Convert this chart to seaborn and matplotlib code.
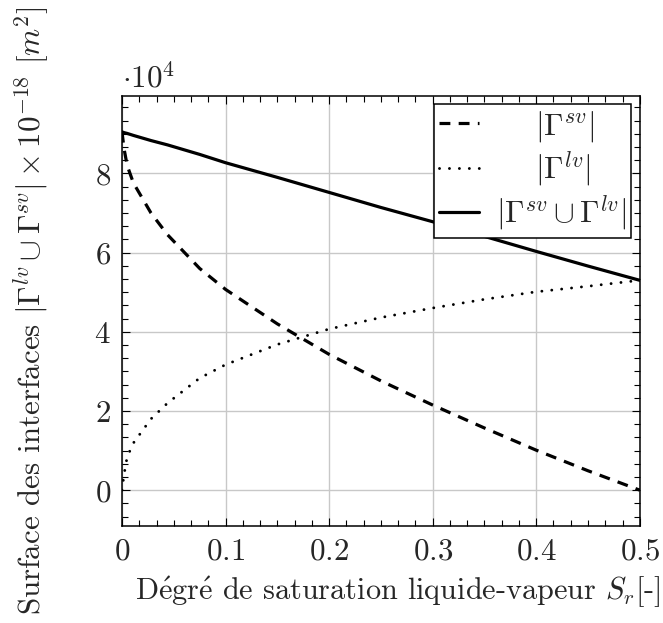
import matplotlib
matplotlib.use("Agg")
import numpy as np
import pandas as pd
import seaborn as sns
import matplotlib.pyplot as plt
from matplotlib.ticker import MultipleLocator, AutoMinorLocator, FuncFormatter

# ---- data (values in units of 1e4 x 1e-18 m^2) ----
sat = [0.0, 0.002, 0.005, 0.011, 0.028, 0.044, 0.075, 0.1, 0.15, 0.2,
       0.25, 0.3, 0.35, 0.4, 0.45, 0.5]
gamma_sv = [9.05, 8.62, 8.20, 7.76, 7.00, 6.45, 5.60, 5.07, 4.20, 3.43,
            2.76, 2.15, 1.57, 1.01, 0.49, 0.0]
gamma_lv = [0.0, 0.40, 0.84, 1.19, 1.80, 2.20, 2.83, 3.17, 3.68, 4.07,
            4.36, 4.60, 4.82, 5.01, 5.15, 5.30]
gamma_tot = [9.05, 9.03, 9.01, 8.96, 8.83, 8.72, 8.48, 8.27, 7.90, 7.52,
             7.14, 6.78, 6.41, 6.03, 5.66, 5.30]

labels = [r'$\quad\;\,|\Gamma^{sv}|$', r'$\quad\;\,|\Gamma^{lv}|$',
          r'$|\Gamma^{sv}\cup\Gamma^{lv}|$']
xticks = [0, 0.1, 0.2, 0.3, 0.4, 0.5]
yticks = [0, 2, 4, 6, 8]

sns.set_style("ticks")
plt.rcParams.update({
    'font.family': ['cmr10', 'DejaVu Serif'],
    'mathtext.fontset': 'cm',
    'axes.formatter.use_mathtext': True,
    'axes.unicode_minus': False,
})

FS = 22.3
LW = 2.3

fig = plt.figure(figsize=(6.63, 6.23), dpi=100)
ax = fig.add_axes([0.184, 0.1557, 0.781, 0.6902])

sns.lineplot(x=sat, y=gamma_sv, ax=ax, color='black', lw=LW,
             linestyle=(0, (3.4, 2.6)), label=labels[0])
sns.lineplot(x=sat, y=gamma_lv, ax=ax, color='black', lw=2.1,
             linestyle=(0, (0.01, 3.4)), dash_capstyle='round', label=labels[1])
sns.lineplot(x=sat, y=gamma_tot, ax=ax, color='black', lw=LW,
             linestyle='-', label=labels[2])

ax.set_xlim(0, 0.5)
ax.set_ylim(-0.905, 9.955)
ax.set_xticks(xticks)
ax.set_yticks(yticks)
ax.xaxis.set_minor_locator(AutoMinorLocator(6))
ax.yaxis.set_minor_locator(AutoMinorLocator(6))
fmt = FuncFormatter(lambda v, p: r'$%g$' % round(v, 3))
ax.xaxis.set_major_formatter(fmt)
ax.yaxis.set_major_formatter(fmt)

ax.tick_params(which='both', direction='in', top=True, right=True,
               color='black', width=0.8, labelsize=FS)
ax.tick_params(which='major', length=6, pad=8)
ax.tick_params(which='minor', length=4.5)
ax.grid(which='major', color='#c8c8c8', lw=1.0)
ax.set_axisbelow(True)
for s in ax.spines.values():
    s.set_color('black')
    s.set_linewidth(1.1)

ax.set_xlabel(r'D$\mathrm{\acute{e}}$gr$\mathrm{\acute{e}}$ de saturation liquide-vapeur $S_r$[-]',
              fontsize=21.8)
ax.set_ylabel(r'Surface des interfaces $|\Gamma^{lv}\cup\Gamma^{sv}|\times 10^{-18}$ $[m^2]$',
              fontsize=FS)
ax.xaxis.set_label_coords(0.533, -0.112)
ax.yaxis.set_label_coords(-0.135, 0.5)

ax.text(0.0, 1.019, r'$\cdot 10^4$', transform=ax.transAxes, ha='left',
        va='baseline', fontsize=FS)

leg = ax.legend(loc='upper right', bbox_to_anchor=(0.983, 0.981),
                borderaxespad=0, fancybox=False, edgecolor='black',
                framealpha=1, fontsize=FS, handlelength=1.3,
                handletextpad=0.55, labelspacing=0.17, borderpad=0.15)
leg.get_frame().set_linewidth(1.1)

fig.savefig('out.png', dpi=100)
